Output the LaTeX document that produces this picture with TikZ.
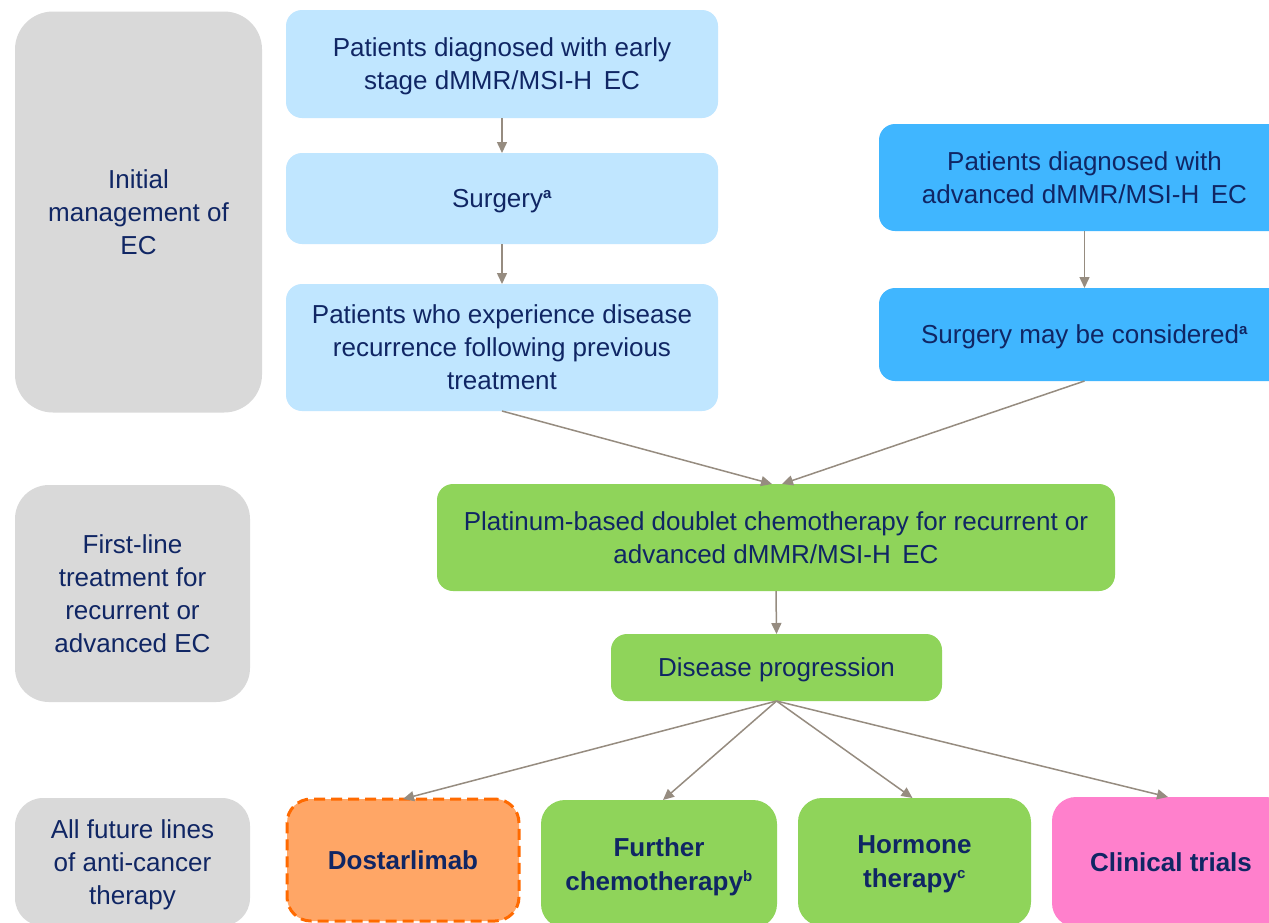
\documentclass[tikz,border=0pt]{standalone}
\usepackage{fontspec}
\setmainfont{Liberation Sans}
\usetikzlibrary{arrows.meta}
\definecolor{navy}{RGB}{16,38,100}
\definecolor{greybox}{RGB}{217,217,217}
\definecolor{lightblue}{RGB}{192,230,255}
\definecolor{midblue}{RGB}{64,182,255}
\definecolor{greenbox}{RGB}{143,212,90}
\definecolor{orangefill}{RGB}{255,166,102}
\definecolor{orangeline}{RGB}{255,106,0}
\definecolor{pinkbox}{RGB}{255,128,204}
\definecolor{arrowcol}{RGB}{150,140,128}
\tikzset{
  base/.style={inner sep=0pt, outer sep=0pt, align=center, text=navy, text depth=0pt, font=\fontsize{26}{33}\selectfont},
  greycard/.style={base, fill=greybox, rounded corners=38pt},
  lbcard/.style={base, fill=lightblue, rounded corners=16pt},
  bcard/.style={base, fill=midblue, rounded corners=16pt},
  gcard/.style={base, fill=greenbox, rounded corners=16pt},
  bottomcard/.style={base, rounded corners=24pt, font=\fontsize{26}{34}\selectfont\bfseries},
  flow/.style={draw=arrowcol, line width=1.5pt, -{Triangle[length=11pt,width=10pt]}}
}
\newcommand{\supmark}[1]{\textsuperscript{\fontsize{15}{15}\selectfont\bfseries #1}}
\begin{document}
\begin{tikzpicture}[x=1pt,y=-1pt]
\useasboundingbox (0,0) rectangle (1269,922);
\clip (0,0) rectangle (1269,922);
\fill[white] (0,0) rectangle (1269,922);

% left column
\node[greycard, minimum width=247pt, minimum height=401pt] (g1) at (138.5,212) {Initial\\management of\\EC};
\node[greycard, rounded corners=34pt, minimum width=235pt, minimum height=217pt] (g2) at (132.5,593.5) {First-line\\treatment for\\recurrent or\\advanced EC};
\node[greycard, rounded corners=28pt, minimum width=235pt, minimum height=128pt] (g3) at (132.5,862) {All future lines\\of anti-cancer\\therapy};

% light blue column
\node[lbcard, minimum width=432pt, minimum height=108pt] (lb1) at (502,64) {Patients diagnosed with early\\stage dMMR/MSI-H\, EC};
\node[lbcard, minimum width=432pt, minimum height=91pt] (lb2) at (502,198.5) {Surgery\supmark{a}};
\node[lbcard, minimum width=432pt, minimum height=127pt] (lb3) at (502,347.5) {Patients who experience disease\\recurrence following previous\\treatment};

% blue column
\node[bcard, minimum width=411pt, minimum height=107pt] (b1) at (1084.5,177.5) {Patients diagnosed with\\advanced dMMR/MSI-H\, EC};
\node[bcard, minimum width=411pt, minimum height=93pt] (b2) at (1084.5,334.5) {Surgery may be considered\supmark{a}};

% green
\node[gcard, minimum width=678pt, minimum height=107pt] (gr1) at (776,537.5) {Platinum-based doublet chemotherapy for recurrent or\\advanced dMMR/MSI-H\, EC};
\node[gcard, minimum width=331pt, minimum height=67pt] (gr2) at (776.5,667.5) {Disease progression};

% bottom row
\node[bottomcard, fill=orangefill, draw=orangeline, line width=3pt, dash pattern=on 11pt off 6pt, minimum width=232pt, minimum height=122pt] (dost) at (403,860) {Dostarlimab};
\node[bottomcard, fill=greenbox, minimum width=236pt, minimum height=128pt] (fc) at (659,864) {Further\\chemotherapy\supmark{b}};
\node[bottomcard, fill=greenbox, minimum width=233pt, minimum height=128pt] (ht) at (914.5,862) {Hormone\\therapy\supmark{c}};
\node[bottomcard, fill=pinkbox, minimum width=238pt, minimum height=130pt] (ct) at (1171,862) {Clinical trials};

% connectors
\draw[flow] (lb1.south) -- (lb2.north);
\draw[flow] (lb2.south) -- (lb3.north);
\draw[flow] (b1.south) -- (b2.north);
\draw[flow] (lb3.south) -- ([xshift=-4pt]gr1.north);
\draw[flow] (b2.south) -- ([xshift=6pt]gr1.north);
\draw[flow] (gr1.south) -- (gr2.north);
\draw[flow] (gr2.south) -- (dost.north);
\draw[flow] (gr2.south) -- ([xshift=4pt]fc.north);
\draw[flow] (gr2.south) -- ([xshift=-2pt]ht.north);
\draw[flow] (gr2.south) -- ([xshift=-3pt]ct.north);
\end{tikzpicture}
\end{document}
